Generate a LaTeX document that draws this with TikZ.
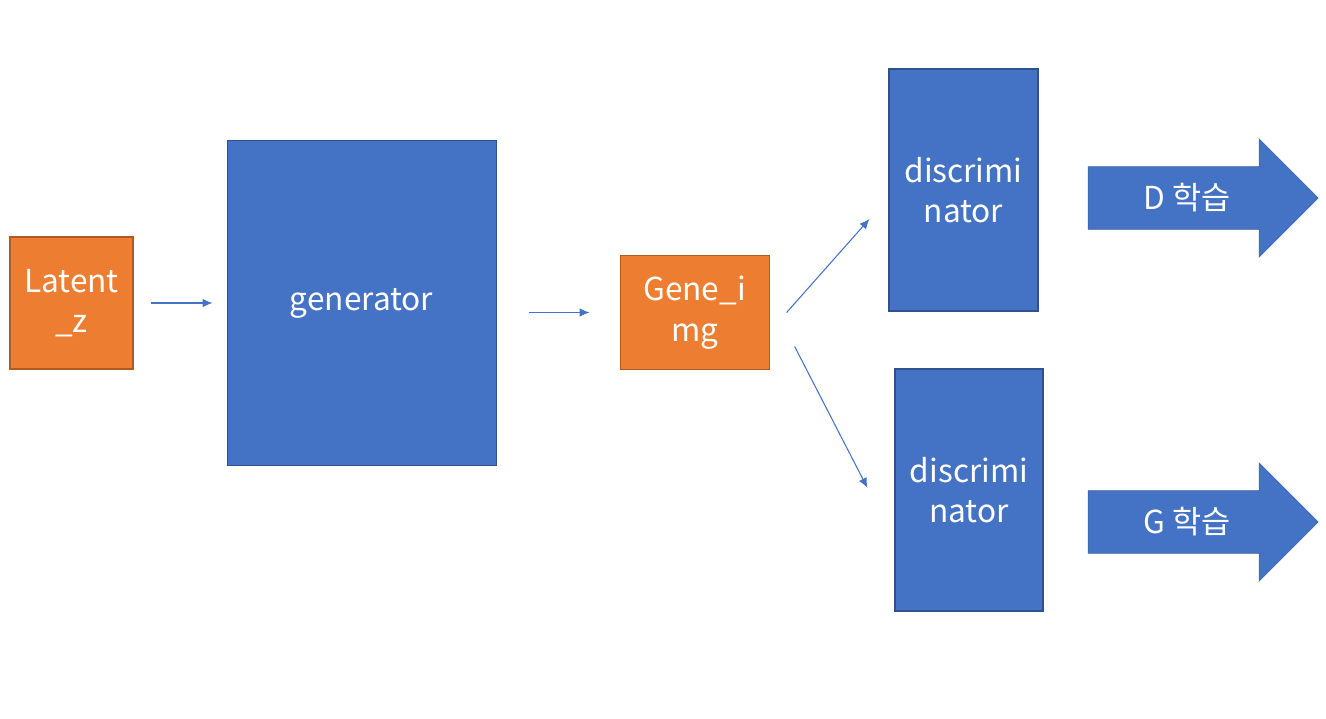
\documentclass[tikz,border=0pt]{standalone}
\usepackage{fontspec}
\setmainfont{Noto Sans CJK KR}
\usepackage{tikz}
\usetikzlibrary{shapes,arrows.meta,positioning}
\definecolor{ppblue}{HTML}{4472C4}
\definecolor{ppblueline}{HTML}{2F528F}
\definecolor{pporange}{HTML}{ED7D31}
\definecolor{pporangeline}{HTML}{AE5A21}
\tikzstyle{block} = [draw=ppblueline, fill=ppblue, rectangle, line width=0.6pt, text=white, align=center, font=\fontsize{18}{23}\selectfont]
\tikzstyle{data} = [draw=pporangeline, fill=pporange, rectangle, line width=0.6pt, text=white, align=center, font=\fontsize{18}{23}\selectfont]
\tikzstyle{result} = [fill=ppblue, draw=ppblue!90!black, line width=0.4pt, single arrow, single arrow head extend=0.26cm, minimum height=4.6cm, minimum width=2.36cm, inner sep=0pt, text=white, font=\fontsize{18}{23}\selectfont]
\tikzstyle{flow} = [draw=ppblue, line width=0.6pt, -{Latex[length=2mm,width=1.7mm]}]

\begin{document}
\begin{tikzpicture}[auto]
	  \useasboundingbox (0,0) rectangle (26.52,14.38);
	  \node [data, minimum width=2.46cm, minimum height=2.64cm] (latent) at (1.43,8.32) {Latent\\\_z};
	  \node [block, minimum width=5.38cm, minimum height=6.5cm, right=1.86cm of latent] (gen) {generator};
	  \node [data, minimum width=2.98cm, minimum height=2.28cm, right=2.46cm of gen, yshift=-0.19cm] (img) {Gene\_i\\mg};
	  \node [block, minimum width=2.98cm, minimum height=4.84cm] (disc1) at (19.27,10.58) {discrimi\\nator};
	  \node [block, minimum width=2.96cm, minimum height=4.84cm] (disc2) at (19.38,4.58) {discrimi\\nator};
	  \node [result] (dlearn) at (23.75,10.42) {D 학습};
	  \node [result] (glearn) at (23.75,3.94) {G 학습};
	
	  \draw [flow, shorten <=0.34cm, shorten >=0.28cm] (latent) -- (gen);
	  \draw [flow, shorten <=0.64cm, shorten >=0.6cm] (gen.east |- img.west) -- (img.west);
	  \draw [flow] ([xshift=0.34cm]img.east) -- ([xshift=-0.38cm,yshift=-0.58cm]disc1.west);
	  \draw [flow] ([xshift=0.5cm,yshift=-0.68cm]img.east) -- ([xshift=-0.54cm,yshift=0.04cm]disc2.west);
	\end{tikzpicture}
\end{document}
